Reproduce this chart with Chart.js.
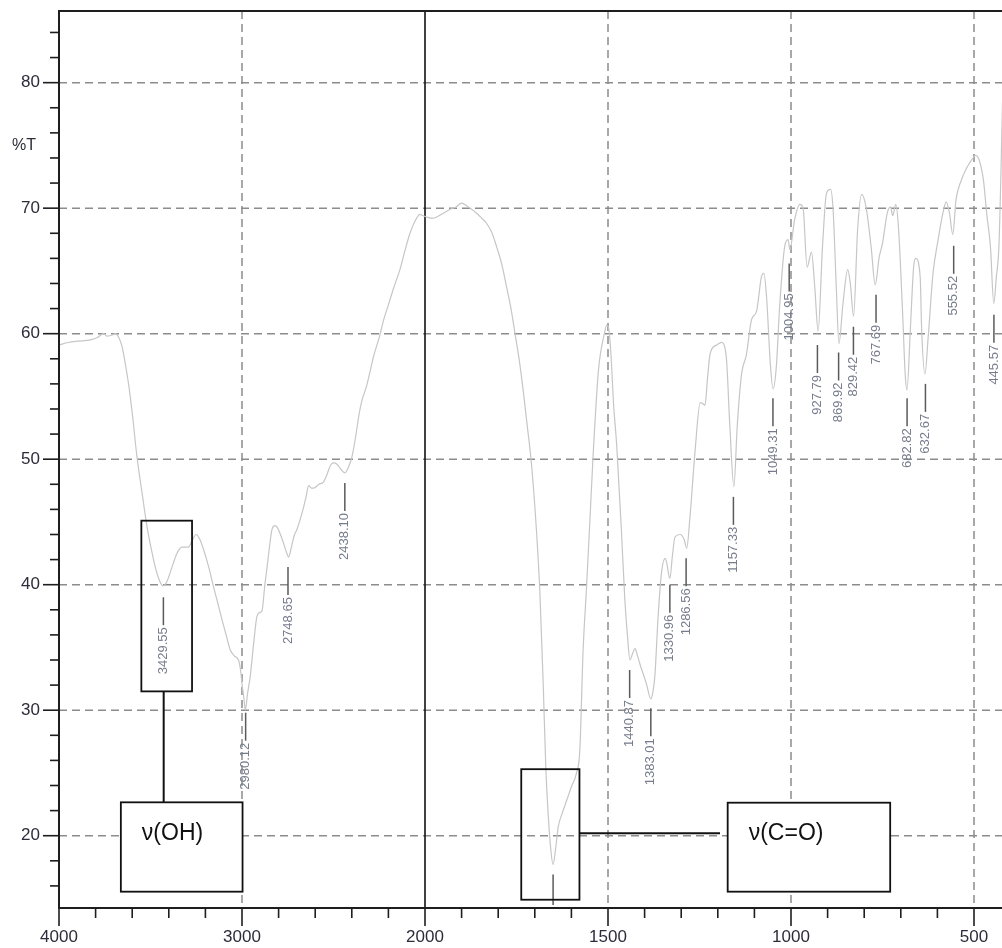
<!DOCTYPE html>
<html>
<head>
<meta charset="utf-8">
<title>IR spectrum</title>
<script src="https://cdn.jsdelivr.net/npm/chart.js@4.4.1/dist/chart.umd.min.js"></script>
<style>
  html, body { margin: 0; padding: 0; background: #ffffff; }
  #wrap { width: 1002px; height: 948px; }
</style>
</head>
<body>
<div id="wrap"><canvas id="ir" width="1002" height="948"></canvas></div>
<script>
// Spectrum trace: wavenumber (cm-1) and transmittance (%T)
const wavenumbers = [
  4000, 3950, 3900, 3829, 3790, 3756, 3738, 3710, 3692, 3670, 3656, 3640, 3620, 3600, 3574, 3545, 3519, 3495, 3474, 3450,
  3432, 3415, 3401, 3378, 3355, 3330, 3319, 3292, 3270, 3250, 3230, 3210, 3180, 3155, 3130, 3109, 3085, 3064, 3040, 3019,
  3008, 3000, 2990, 2982, 2970, 2955, 2935, 2918, 2900, 2891, 2875, 2863, 2850, 2836, 2820, 2809, 2790, 2773, 2755, 2745,
  2730, 2715, 2700, 2680, 2663, 2650, 2636, 2620, 2609, 2580, 2554, 2535, 2517, 2500, 2481, 2460, 2438, 2420, 2399, 2380,
  2360, 2344, 2320, 2300, 2281, 2250, 2226, 2200, 2170, 2137, 2110, 2082, 2050, 2027, 2010, 1995, 1980, 1968, 1950, 1932,
  1915, 1900, 1886, 1872, 1859, 1845, 1832, 1818, 1804, 1790, 1777, 1765, 1754, 1742, 1731, 1720, 1709, 1695, 1686, 1677,
  1670, 1663, 1656, 1650, 1643, 1636, 1625, 1613, 1600, 1586, 1577, 1568, 1559, 1549, 1540, 1526, 1510, 1503, 1497, 1491,
  1485, 1476, 1463, 1454, 1447, 1440, 1433, 1426, 1420, 1413, 1395, 1383, 1377, 1372, 1363, 1354, 1344, 1340, 1331, 1324,
  1317, 1303, 1292, 1285, 1276, 1262, 1248, 1240, 1235, 1228, 1221, 1203, 1189, 1180, 1176, 1167, 1156, 1147, 1135, 1122,
  1108, 1094, 1081, 1074, 1067, 1056, 1049, 1040, 1031, 1017, 1008, 1003, 990, 976, 967, 956, 944, 935, 926, 914,
  903, 892, 885, 876, 869, 858, 845, 838, 829, 818, 807, 795, 781, 770, 759, 750, 737, 728, 722, 714,
  706, 695, 688, 683, 674, 665, 659, 647, 643, 634, 625, 612, 598, 585, 576, 567, 558, 549, 535, 520,
  505, 496, 488, 480, 474, 465, 455, 446, 439, 432, 427, 422
];
const transmittance = [
  59.1, 59.3, 59.4, 59.5, 59.7, 60.0, 59.8, 59.9, 60.0, 59.6, 59.0, 57.8, 56.0, 53.7, 50.2, 47.2, 44.6, 42.8, 41.4, 40.3,
  39.9, 40.1, 40.6, 41.6, 42.5, 43.0, 43.0, 43.0, 43.6, 44.0, 43.6, 42.8, 41.3, 39.8, 38.4, 37.2, 35.9, 34.8, 34.3, 34.0,
  33.2, 32.1, 31.0, 30.0, 31.3, 32.7, 35.5, 37.5, 37.8, 37.9, 40.0, 41.4, 43.0, 44.4, 44.7, 44.6, 44.0, 43.3, 42.5, 42.2,
  43.0, 43.9, 44.4, 45.3, 46.2, 47.0, 47.9, 47.7, 47.7, 48.0, 48.2, 48.8, 49.5, 49.7, 49.6, 49.2, 48.9, 49.3, 50.2, 51.7,
  53.6, 54.7, 55.8, 57.0, 58.2, 59.7, 61.1, 62.3, 63.7, 65.1, 66.6, 68.0, 69.1, 69.5, 69.4, 69.3, 69.2, 69.3, 69.6, 69.9,
  70.1, 70.4, 70.2, 69.9, 69.6, 69.2, 68.8, 68.1, 66.9, 65.5, 63.7, 62.0, 60.0, 57.8, 55.3, 52.5, 49.6, 44.1, 39.3, 32.1,
  25.5, 21.5, 18.8, 17.7, 19.0, 20.7, 21.8, 22.8, 23.9, 25.0, 26.8, 34.8, 39.6, 45.4, 50.7, 57.1, 60.0, 60.7, 60.2, 57.9,
  54.5, 51.0, 44.1, 38.8, 36.0, 34.0, 34.5, 34.9, 34.4, 33.7, 32.1, 30.9, 31.5, 32.7, 37.5, 40.9, 42.1, 41.8, 40.5, 42.3,
  43.8, 44.0, 43.6, 42.9, 45.4, 50.7, 54.5, 54.4, 54.3, 56.5, 58.4, 59.1, 59.3, 58.8, 57.9, 52.6, 47.8, 52.6, 56.8, 58.3,
  61.1, 61.8, 64.5, 64.8, 63.0, 57.4, 55.6, 57.4, 62.2, 67.0, 67.5, 66.7, 69.1, 70.3, 70.0, 65.3, 66.5, 63.7, 60.2, 66.9,
  71.2, 71.5, 69.9, 63.5, 59.2, 62.4, 65.1, 64.0, 61.4, 68.3, 71.1, 70.1, 66.9, 63.9, 66.1, 67.2, 69.6, 70.1, 69.4, 70.3,
  68.3, 61.6, 56.8, 55.5, 60.3, 65.3, 66.0, 64.5, 60.3, 56.8, 59.8, 64.8, 67.5, 69.6, 70.5, 69.6, 67.9, 70.7, 72.2, 73.2,
  73.9, 74.2, 74.0, 73.2, 72.2, 69.5, 66.9, 62.4, 64.5, 66.9, 72.0, 78.5
];

// Labelled absorption peaks: position, printed value, %T where the marker stroke begins
const peakPositions = [3429.55, 2980.12, 2748.65, 2438.10, 1440.87, 1383.01, 1330.96, 1286.56, 1157.33, 1049.31,
  1004.95, 927.79, 869.92, 829.42, 767.69, 682.82, 632.67, 555.52, 445.57];
const peakLabels = ['3429.55', '2980.12', '2748.65', '2438.10', '1440.87', '1383.01', '1330.96', '1286.56', '1157.33',
  '1049.31', '1004.95', '927.79', '869.92', '829.42', '767.69', '682.82', '632.67', '555.52', '445.57'];
const peakMarkTop = [39.0, 29.8, 41.4, 48.1, 33.2, 30.15, 40.0, 42.1, 47.0, 54.85,
  65.6, 59.1, 58.5, 60.55, 63.1, 54.85, 56.0, 67.0, 61.5];
// Strongest band marker (its value is printed below the axis)
const carbonylMarkX = 1650;
const carbonylMarkTop = 16.9;

// Axis ticks
const xMajorTicks = [4000, 3000, 2000, 1500, 1000, 500];
const xMinorTicks = [3800, 3600, 3400, 3200, 2800, 2600, 2400, 2200, 1900, 1800, 1700, 1600, 1400, 1300, 1200, 1100,
  900, 800, 700, 600];
const xGridLines = [3000, 1500, 1000, 500];
const yMajorTicks = [20, 30, 40, 50, 60, 70, 80];
const yMinorTicks = [16, 18, 22, 24, 26, 28, 32, 34, 36, 38, 42, 44, 46, 48, 52, 54, 56, 58, 62, 64, 66, 68, 72, 74, 76, 78, 82, 84];

// Band assignment callouts (data coordinates)
const bandNames = ['ν(OH)', 'ν(C=O)'];
const bandFrames = [   // [wn left, wn right, %T top, %T bottom] around the band
  [3550, 3273, 45.1, 31.5],
  [1737, 1578, 25.3, 14.9]
];
const bandBoxes = [    // label boxes
  [3662, 2997, 22.66, 15.54],
  [1173, 729, 22.63, 15.54]
];

// Instrument x axis: scale doubles below 2000 cm-1
const SPLIT = 2000;
const EXPAND = 2;

class WavenumberScale extends Chart.LinearScale {
  _span(v) {
    return v >= SPLIT ? this.max - v : (this.max - SPLIT) + EXPAND * (SPLIT - v);
  }
  getPixelForValue(v) {
    const full = this._span(this.min);
    return this.left + (this.right - this.left) * this._span(v) / full;
  }
  getValueForPixel(p) {
    const full = this._span(this.min);
    const s = (p - this.left) / (this.right - this.left) * full;
    const leftSpan = this.max - SPLIT;
    return s <= leftSpan ? this.max - s : SPLIT - (s - leftSpan) / EXPAND;
  }
}
WavenumberScale.id = 'wavenumber';
WavenumberScale.defaults = Chart.LinearScale.defaults;
Chart.register(WavenumberScale);

const FONT = '"Liberation Sans", Arial, sans-serif';

function seg(ctx, x1, y1, x2, y2) {
  ctx.beginPath(); ctx.moveTo(x1, y1); ctx.lineTo(x2, y2); ctx.stroke();
}

const spectrumFrame = {
  id: 'spectrumFrame',
  beforeDatasetsDraw(chart) {
    const { ctx, chartArea: a, scales: { x, y } } = chart;
    ctx.save();
    ctx.strokeStyle = '#8c8c8c';
    ctx.lineWidth = 1.5;
    ctx.setLineDash([8, 5]);
    yMajorTicks.forEach(v => { const yy = y.getPixelForValue(v); seg(ctx, a.left, yy, a.right, yy); });
    xGridLines.forEach(v => { const xx = x.getPixelForValue(v); seg(ctx, xx, a.top, xx, a.bottom); });
    ctx.setLineDash([]);
    ctx.strokeStyle = '#111111';
    ctx.lineWidth = 1.6;
    const xs = x.getPixelForValue(SPLIT);
    seg(ctx, xs, a.top, xs, a.bottom);
    ctx.restore();
  },
  afterDatasetsDraw(chart) {
    const { ctx, chartArea: a, scales: { x, y } } = chart;
    ctx.save();

    // frame
    ctx.strokeStyle = '#1e1e1e';
    ctx.lineWidth = 2;
    seg(ctx, a.left, a.top, a.right, a.top);
    seg(ctx, a.left, a.top - 1, a.left, a.bottom + 1);
    seg(ctx, a.left, a.bottom, a.right, a.bottom);

    // y ticks
    ctx.lineWidth = 1.6;
    yMinorTicks.forEach(v => { const yy = y.getPixelForValue(v); seg(ctx, a.left - 9, yy, a.left, yy); });
    yMajorTicks.forEach(v => { const yy = y.getPixelForValue(v); seg(ctx, a.left - 16, yy, a.left, yy); });
    // x ticks
    xMinorTicks.forEach(v => { const xx = x.getPixelForValue(v); seg(ctx, xx, a.bottom, xx, a.bottom + 10); });
    xMajorTicks.forEach(v => { const xx = x.getPixelForValue(v); seg(ctx, xx, a.bottom, xx, a.bottom + 18); });

    // tick labels
    ctx.fillStyle = '#2c2c3a';
    ctx.font = '17px ' + FONT;
    ctx.textAlign = 'right';
    ctx.textBaseline = 'middle';
    yMajorTicks.forEach(v => ctx.fillText(String(v), a.left - 19, y.getPixelForValue(v)));
    ctx.textAlign = 'center';
    xMajorTicks.forEach(v => ctx.fillText(String(v), x.getPixelForValue(v), a.bottom + 29));
    ctx.textAlign = 'left';
    ctx.font = '16px ' + FONT;
    ctx.fillText('%T', 12, y.getPixelForValue(75));

    // peak markers with rotated values
    ctx.save();
    ctx.beginPath();
    ctx.rect(a.left, a.top, a.right - a.left, a.bottom - a.top);
    ctx.clip();
    ctx.strokeStyle = '#5a5a5a';
    ctx.lineWidth = 1.5;
    ctx.font = '13px ' + FONT;
    ctx.fillStyle = '#767c8c';
    ctx.textAlign = 'right';
    ctx.textBaseline = 'middle';
    peakPositions.forEach((wn, i) => {
      const xx = x.getPixelForValue(wn);
      const y0 = y.getPixelForValue(peakMarkTop[i]);
      seg(ctx, xx, y0, xx, y0 + 28);
      ctx.save();
      ctx.translate(xx, y0 + 30);
      ctx.rotate(-Math.PI / 2);
      ctx.fillText(peakLabels[i], 0, 0);
      ctx.restore();
    });
    const cx = x.getPixelForValue(carbonylMarkX);
    const cy = y.getPixelForValue(carbonylMarkTop);
    seg(ctx, cx, cy, cx, a.bottom - 3);
    ctx.restore();

    // band callouts
    ctx.strokeStyle = '#111111';
    ctx.lineWidth = 1.8;
    bandFrames.forEach(f => {
      const l = x.getPixelForValue(f[0]), r = x.getPixelForValue(f[1]);
      const t = y.getPixelForValue(f[2]), b = y.getPixelForValue(f[3]);
      ctx.strokeRect(l, t, r - l, b - t);
    });
    // connectors
    ctx.lineWidth = 2;
    const ohX = x.getPixelForValue(3428);
    seg(ctx, ohX, y.getPixelForValue(bandFrames[0][3]), ohX, y.getPixelForValue(bandBoxes[0][2]));
    const coY = y.getPixelForValue(20.19);
    seg(ctx, x.getPixelForValue(bandFrames[1][1]), coY, x.getPixelForValue(1194), coY);

    ctx.lineWidth = 1.8;
    ctx.font = '23px ' + FONT;
    ctx.textAlign = 'left';
    ctx.textBaseline = 'middle';
    bandBoxes.forEach((bx, i) => {
      const l = x.getPixelForValue(bx[0]), r = x.getPixelForValue(bx[1]);
      const t = y.getPixelForValue(bx[2]), b = y.getPixelForValue(bx[3]);
      ctx.fillStyle = '#ffffff';
      ctx.fillRect(l, t, r - l, b - t);
      ctx.strokeRect(l, t, r - l, b - t);
      ctx.fillStyle = '#111111';
      ctx.fillText(bandNames[i], l + 21, t + 31);
    });
    ctx.restore();
  }
};

new Chart(document.getElementById('ir'), {
  type: 'line',
  data: {
    datasets: [{
      data: wavenumbers.map((w, i) => ({ x: w, y: transmittance[i] })),
      borderColor: '#c6c6c6',
      borderWidth: 1.2,
      pointRadius: 0,
      cubicInterpolationMode: 'monotone',
      fill: false
    }]
  },
  options: {
    responsive: false,
    devicePixelRatio: 1,
    animation: false,
    events: [],
    layout: { padding: { left: 59, top: 11, right: 0, bottom: 40 } },
    scales: {
      x: { type: 'wavenumber', min: 423.5, max: 4000, display: false },
      y: { type: 'linear', min: 14.24, max: 85.71, display: false }
    },
    plugins: { legend: { display: false }, tooltip: { enabled: false } }
  },
  plugins: [spectrumFrame]
});
</script>
</body>
</html>
